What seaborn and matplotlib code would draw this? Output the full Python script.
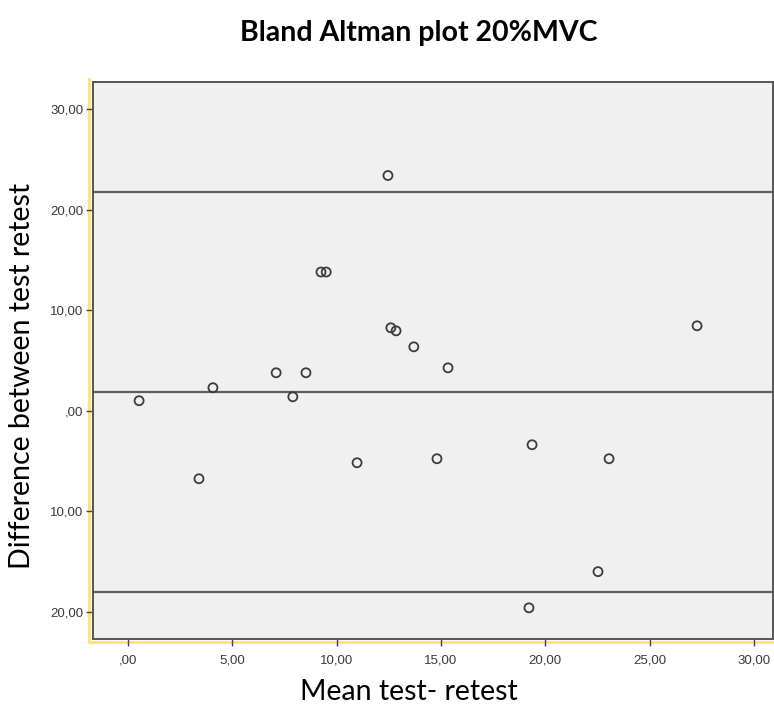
import matplotlib
matplotlib.use("Agg")
import matplotlib.pyplot as plt
from matplotlib.lines import Line2D
import seaborn as sns
import pandas as pd

# ---- data ----
mean_test_retest = [0.53, 3.4, 4.07, 7.1, 7.9, 8.53, 9.25, 9.5, 10.98, 12.46,
                    12.6, 12.85, 13.7, 15.34, 14.81, 19.37, 19.22, 22.53, 23.06, 27.28]
difference = [1.0, -6.76, 2.29, 3.78, 1.39, 3.78, 13.8, 13.8, -5.17, 23.4,
              8.25, 7.95, 6.36, 4.27, -4.77, -3.38, -19.6, -16.0, -4.77, 8.45]
reference_lines = [21.8, 1.9, -18.0]   # upper LoA, mean difference, lower LoA

x_tick_values = [0, 5, 10, 15, 20, 25, 30]
x_tick_labels = [",00", "5,00", "10,00", "15,00", "20,00", "25,00", "30,00"]
y_tick_values = [-20, -10, 0, 10, 20, 30]
y_tick_labels = ["20,00", "10,00", ",00", "10,00", "20,00", "30,00"]

title_text = "Bland Altman plot 20%MVC"
x_label = "Mean test- retest"
y_label = "Difference between test retest"

df = pd.DataFrame({"mean": mean_test_retest, "diff": difference})

sns.set_theme(style="white")
plt.rcParams["font.family"] = ["Liberation Sans", "DejaVu Sans"]

W, H = 774, 707
fig = plt.figure(figsize=(W / 100, H / 100), dpi=100)
left, right, top, bottom = 93, 773, 82, 639
ax = fig.add_axes([left / W, 1 - bottom / H, (right - left) / W, (bottom - top) / H])
ax.set_facecolor("#F0F0F0")

for yv in reference_lines:
    ax.axhline(yv, color="#5E5E5E", lw=1.6, zorder=1)

sns.scatterplot(data=df, x="mean", y="diff", ax=ax, s=42, marker="o",
                facecolor="none", edgecolor="#3C3C3C", linewidth=1.3, zorder=3)

ax.set_xlim(-1.68, 30.92)
ax.set_ylim(-22.7, 32.7)
ax.set_xticks(x_tick_values)
ax.set_xticklabels(x_tick_labels)
ax.set_yticks(y_tick_values)
ax.set_yticklabels(y_tick_labels)
ax.tick_params(axis="both", which="both", length=5, width=1, color="#444444",
               labelsize=9.5, labelcolor="#3A3A3A", direction="out",
               bottom=True, left=True)
ax.tick_params(axis="x", pad=6)
ax.tick_params(axis="y", pad=2)
for sp in ax.spines.values():
    sp.set_color("#555555")
    sp.set_linewidth(1.4)
ax.set_xlabel("")
ax.set_ylabel("")

# yellow selection frame (left and bottom edges visible)
yellow = "#FFE27A"
fig.add_artist(Line2D([89 / W, 89 / W], [1 - 79 / H, 1 - 642 / H],
                      transform=fig.transFigure, color=yellow, lw=2.2, zorder=0))
fig.add_artist(Line2D([89 / W, 1.0], [1 - 642 / H, 1 - 642 / H],
                      transform=fig.transFigure, color=yellow, lw=2.2, zorder=0))

fig.text(419 / W, 1 - 33 / H, title_text, ha="center", va="center",
         fontsize=20.5, fontweight="bold", color="black", family=["Lato", "DejaVu Sans"])
fig.text(409 / W, 1 - 692 / H, x_label, ha="center", va="center",
         fontsize=20.5, color="black", family=["Lato", "DejaVu Sans"])
fig.text(22 / W, 1 - 376 / H, y_label, ha="center", va="center", rotation=90,
         fontsize=20.5, color="black", family=["Lato", "DejaVu Sans"])

fig.savefig("out.png", dpi=100, facecolor="white")
